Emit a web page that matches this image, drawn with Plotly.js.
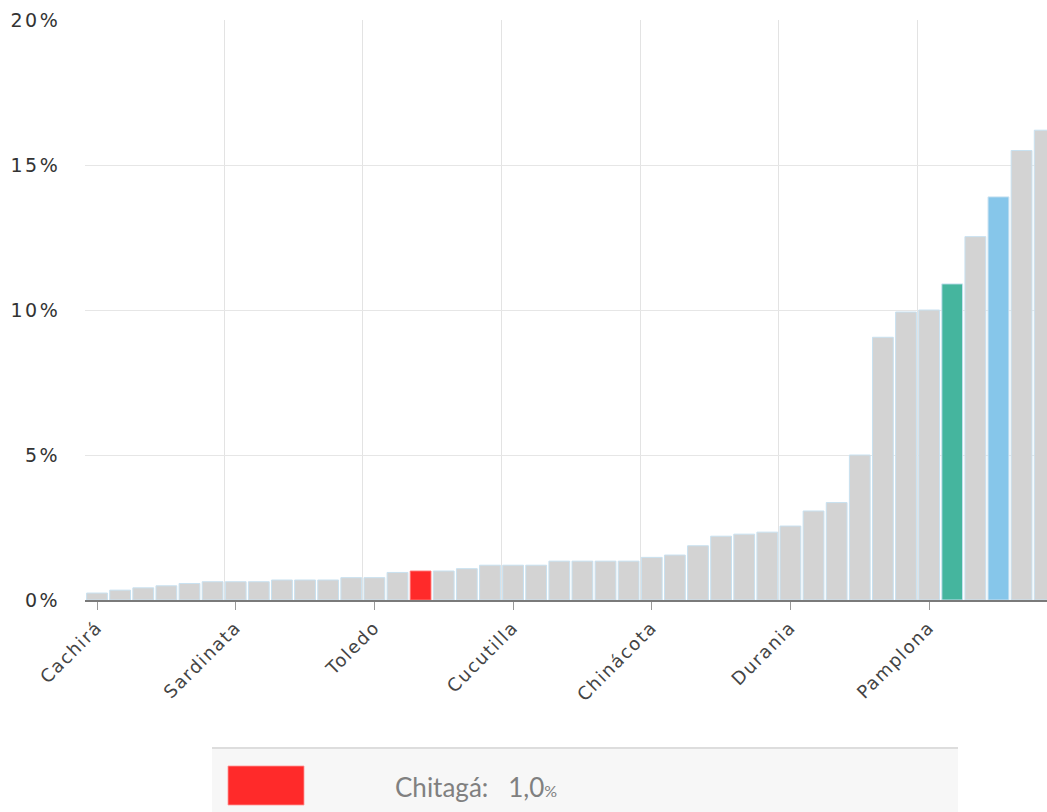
<!DOCTYPE html>
<html>
<head>
<meta charset="utf-8">
<script src="https://cdn.plot.ly/plotly-3.0.1.min.js"></script>
<style>
  html, body { margin: 0; padding: 0; background: #fff; overflow: hidden; }
  #chart { width: 1047px; height: 812px; }
  .ytick text { letter-spacing: 2.5px; }
  .xtick text { letter-spacing: 1.5px; }
</style>
</head>
<body>
<div id="chart"></div>
<script>
// Municipalities (sorted ascending by value); only some names are visible as tick labels
const municipios = [
  "Cachirá", "Hacarí", "San Calixto", "El Carmen", "La Playa", "Teorama",
  "Sardinata", "El Tarra", "Convención", "Tibú", "Ábrego", "Bucarasica",
  "Toledo", "Labateca", "Chitagá", "Silos", "Mutiscua", "Cácota",
  "Cucutilla", "Salazar", "Arboledas", "Santiago", "Villa Caro", "Gramalote",
  "Chinácota", "Lourdes", "Herrán", "Ragonvalia", "Bochalema", "Puerto Santander",
  "Durania", "La Esperanza", "San Cayetano", "El Zulia", "Pamplonita", "Ocaña",
  "Pamplona", "Norte de Santander", "Villa del Rosario", "Colombia", "Los Patios", "Cúcuta"
];
// Values in percent
const valores = [
  0.24, 0.34, 0.42, 0.49, 0.57, 0.63,
  0.63, 0.63, 0.69, 0.69, 0.69, 0.77,
  0.77, 0.95, 1.0, 1.0, 1.08, 1.2,
  1.2, 1.2, 1.34, 1.34, 1.34, 1.34,
  1.47, 1.55, 1.87, 2.2, 2.27, 2.34,
  2.55, 3.07, 3.36, 5.0, 9.06, 9.93,
  10.0, 10.9, 12.53, 13.9, 15.5, 16.2
];
const seleccionado = "Chitagá";
const departamento = "Norte de Santander";
const pais = "Colombia";
const yTicks = [0, 5, 10, 15, 20];
const etiquetasCada = 6;

const COLOR_BASE = "#d3d3d3";
const COLOR_SEL = "#ff2a2a";
const COLOR_DEP = "#45b59e";
const COLOR_PAIS = "#86c6ea";

const xs = municipios.map((_, i) => i);
const colors = municipios.map(n => n === seleccionado ? COLOR_SEL : n === departamento ? COLOR_DEP : n === pais ? COLOR_PAIS : COLOR_BASE);
const lineColors = municipios.map(n => n === seleccionado ? "rgba(255,120,120,0.9)" : "rgba(200,225,240,1)");

const tickIdx = xs.filter(i => i % etiquetasCada === 0);
const gridIdx = tickIdx.map(i => i - 0.5);

const trace = {
  type: "bar",
  x: xs,
  y: valores,
  customdata: municipios,
  hovertemplate: "%{customdata}: %{y:.1f}%<extra></extra>",
  marker: { color: colors, line: { color: lineColors, width: 1 } }
};

const W = 1047, H = 812;
const mL = 85, mR = 0, mT = 20, mB = 212;
const plotW = W - mL - mR, plotH = H - mT - mB;
const px = v => (v - mL) / plotW;
const py = v => (H - mB - v) / plotH;

const selIdx = municipios.indexOf(seleccionado);
const selVal = valores[selIdx].toFixed(1).replace(".", ",");

const FONT = "'DejaVu Sans', Verdana, sans-serif";

const layout = {
  width: W, height: H,
  margin: { l: mL, r: mR, t: mT, b: mB },
  paper_bgcolor: "#fff",
  plot_bgcolor: "#fff",
  showlegend: false,
  bargap: 0.1,
  font: { family: FONT, color: "#444" },
  xaxis: {
    range: [-0.52, 41.1],
    tickmode: "array",
    tickvals: tickIdx,
    ticktext: tickIdx.map(i => municipios[i]),
    tickangle: -45,
    ticks: "outside",
    ticklen: 8,
    tickcolor: "#999",
    tickfont: { family: FONT, size: 18, color: "#444" },
    showgrid: false,
    minor: { tickmode: "array", tickvals: gridIdx, showgrid: true, gridcolor: "#e3e3e3", gridwidth: 1, ticks: "" },
    showline: true,
    linecolor: "#7a7a7a",
    linewidth: 1.5,
    zeroline: false,
    fixedrange: true
  },
  yaxis: {
    range: [0, 20],
    tickmode: "array",
    tickvals: yTicks,
    ticktext: yTicks.map(v => v + "%"),
    tickfont: { family: FONT, size: 19, color: "#333" },
    ticks: "outside",
    ticklen: 20,
    tickcolor: "rgba(0,0,0,0)",
    showgrid: true,
    gridcolor: "#e6e6e6",
    zeroline: false,
    showline: false,
    fixedrange: true
  },
  shapes: [
    { type: "rect", xref: "paper", yref: "paper", x0: px(212), x1: px(958), y0: py(830), y1: py(748),
      fillcolor: "#f7f7f7", line: { width: 0 }, layer: "below" },
    { type: "line", xref: "paper", yref: "paper", x0: px(212), x1: px(958), y0: py(748), y1: py(748),
      line: { color: "#dddddd", width: 2 } },
    { type: "rect", xref: "paper", yref: "paper", x0: px(228), x1: px(304), y0: py(805), y1: py(766),
      fillcolor: COLOR_SEL, line: { color: "rgba(255,150,150,0.8)", width: 1 } }
  ],
  annotations: [
    { xref: "paper", yref: "paper", x: px(393), y: py(787), xanchor: "left", yanchor: "middle",
      showarrow: false,
      text: seleccionado + ":   " + selVal + "<span style=\"font-size:16px\">%</span>",
      font: { family: "Lato, 'Open Sans', sans-serif", size: 26, color: "#808080" } }
  ]
};

Plotly.newPlot("chart", [trace], layout, { displayModeBar: false, responsive: false });
</script>
</body>
</html>
